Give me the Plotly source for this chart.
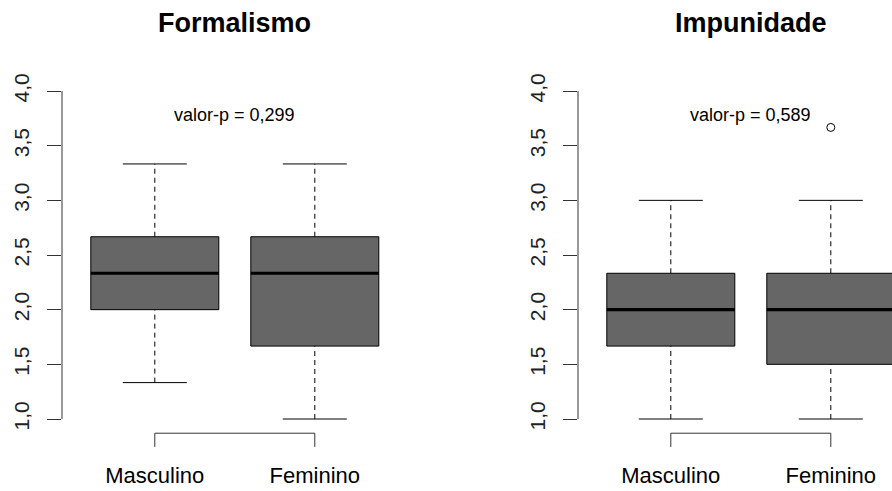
import plotly.graph_objects as go

# ---------------- data ----------------
categories = ["Masculino", "Feminino"]
panel_titles = ["Formalismo", "Impunidade"]
p_values = ["valor-p = 0,299", "valor-p = 0,589"]

formalismo_lower = [1.333, 1.0]
formalismo_q1 = [2.0, 1.667]
formalismo_median = [2.333, 2.333]
formalismo_q3 = [2.667, 2.667]
formalismo_upper = [3.333, 3.333]
formalismo_outliers = [[], []]

impunidade_lower = [1.0, 1.0]
impunidade_q1 = [1.667, 1.5]
impunidade_median = [2.0, 2.0]
impunidade_q3 = [2.333, 2.333]
impunidade_upper = [3.0, 3.0]
impunidade_outliers = [[], [3.667]]

y_ticks = [1.0, 1.5, 2.0, 2.5, 3.0, 3.5, 4.0]

panels = [
    dict(lower=formalismo_lower, q1=formalismo_q1, med=formalismo_median,
         q3=formalismo_q3, upper=formalismo_upper, out=formalismo_outliers),
    dict(lower=impunidade_lower, q1=impunidade_q1, med=impunidade_median,
         q3=impunidade_q3, upper=impunidade_upper, out=impunidade_outliers),
]

# ---------------- layout constants ----------------
W, H = 892, 491
FONT = "Liberation Sans, Arial, Helvetica, sans-serif"
BOX_HALF = 0.4
CAP_HALF = 0.2
YMIN, YMAX = 0.7, 4.12
X_RANGES = [[0.42, 2.58], [0.42, 2.3825]]
X_DOMAINS = [[62 / W, 407.6 / W], [578 / W, 1.0]]
Y_DOMAIN = [(H - 451.8) / H, (H - 77.9) / H]
BRACKET_Y = 0.87
BRACKET_DROP = 0.125
P_Y = 3.78
PANEL_W = X_DOMAINS[0][1] - X_DOMAINS[0][0]

fig = go.Figure()
positions = [1, 2]

for k, p in enumerate(panels):
    xa = "x" if k == 0 else "x2"
    ya = "y" if k == 0 else "y2"
    for i, c in enumerate(positions):
        # whiskers (dashed)
        fig.add_trace(go.Scatter(
            x=[c, c, None, c, c], y=[p["q3"][i], p["upper"][i], None, p["lower"][i], p["q1"][i]],
            mode="lines", line=dict(color="black", width=1, dash="5px,4px"),
            xaxis=xa, yaxis=ya, showlegend=False, hoverinfo="skip"))
        # caps
        fig.add_trace(go.Scatter(
            x=[c - CAP_HALF, c + CAP_HALF, None, c - CAP_HALF, c + CAP_HALF],
            y=[p["upper"][i], p["upper"][i], None, p["lower"][i], p["lower"][i]],
            mode="lines", line=dict(color="black", width=1),
            xaxis=xa, yaxis=ya, showlegend=False, hoverinfo="skip"))
        # box
        fig.add_trace(go.Scatter(
            x=[c - BOX_HALF, c + BOX_HALF, c + BOX_HALF, c - BOX_HALF, c - BOX_HALF],
            y=[p["q1"][i], p["q1"][i], p["q3"][i], p["q3"][i], p["q1"][i]],
            mode="lines", fill="toself", fillcolor="#666666",
            line=dict(color="black", width=1),
            xaxis=xa, yaxis=ya, showlegend=False, hoverinfo="skip"))
        # median
        fig.add_trace(go.Scatter(
            x=[c - BOX_HALF, c + BOX_HALF], y=[p["med"][i], p["med"][i]],
            mode="lines", line=dict(color="black", width=3.2),
            xaxis=xa, yaxis=ya, showlegend=False, hoverinfo="skip"))
        # outliers
        if p["out"][i]:
            fig.add_trace(go.Scatter(
                x=[c] * len(p["out"][i]), y=p["out"][i], mode="markers",
                marker=dict(symbol="circle-open", size=8, color="black", line=dict(width=1)),
                xaxis=xa, yaxis=ya, showlegend=False, hoverinfo="skip"))
    # bracket under the groups
    fig.add_trace(go.Scatter(
        x=[positions[0], positions[0], positions[1], positions[1]],
        y=[BRACKET_Y - BRACKET_DROP, BRACKET_Y, BRACKET_Y, BRACKET_Y - BRACKET_DROP],
        mode="lines", line=dict(color="#333333", width=1),
        xaxis=xa, yaxis=ya, showlegend=False, hoverinfo="skip"))

    # p-value text
    fig.add_annotation(x=sum(positions) / 2, y=P_Y, xref=xa, yref=ya, text=p_values[k],
                       showarrow=False, xanchor="center", yanchor="middle",
                       font=dict(family=FONT, size=18, color="black"))
    # panel title
    fig.add_annotation(x=X_DOMAINS[k][0] + PANEL_W / 2,
                       y=(H - 23) / H, xref="paper", yref="paper", text="<b>" + panel_titles[k] + "</b>",
                       showarrow=False, xanchor="center", yanchor="middle",
                       font=dict(family=FONT, size=27, color="black"))
    # y-axis line spanning first to last tick
    fig.add_shape(type="line", xref=xa + " domain", yref=ya + " domain",
                  x0=0, x1=0,
                  y0=(y_ticks[0] - YMIN) / (YMAX - YMIN), y1=(y_ticks[-1] - YMIN) / (YMAX - YMIN),
                  line=dict(color="#333333", width=1))

axis_common_x = dict(showgrid=False, zeroline=False, showline=False, ticks="",
                     tickvals=positions, ticktext=categories,
                     tickfont=dict(family=FONT, size=22, color="black"),
                     ticklabelstandoff=8, fixedrange=True, automargin=False)
axis_common_y = dict(showgrid=False, zeroline=False, showline=False, ticks="outside",
                     ticklen=14, tickwidth=1, tickcolor="#333333",
                     tickvals=y_ticks, tickformat=".1f", tickangle=-90,
                     tickfont=dict(family=FONT, size=21, color="#222222"),
                     ticklabelstandoff=10,
                     range=[YMIN, YMAX], domain=Y_DOMAIN, fixedrange=True, automargin=False)

fig.update_layout(
    width=W, height=H, margin=dict(l=0, r=0, t=0, b=0, pad=0, autoexpand=False),
    paper_bgcolor="white", plot_bgcolor="white",
    separators=",.",
    showlegend=False,
    xaxis=dict(axis_common_x, range=X_RANGES[0], domain=X_DOMAINS[0], anchor="y"),
    yaxis=dict(axis_common_y, anchor="x"),
    xaxis2=dict(axis_common_x, range=X_RANGES[1], domain=X_DOMAINS[1], anchor="y2"),
    yaxis2=dict(axis_common_y, anchor="x2"),
)

fig.write_html("out.html")
